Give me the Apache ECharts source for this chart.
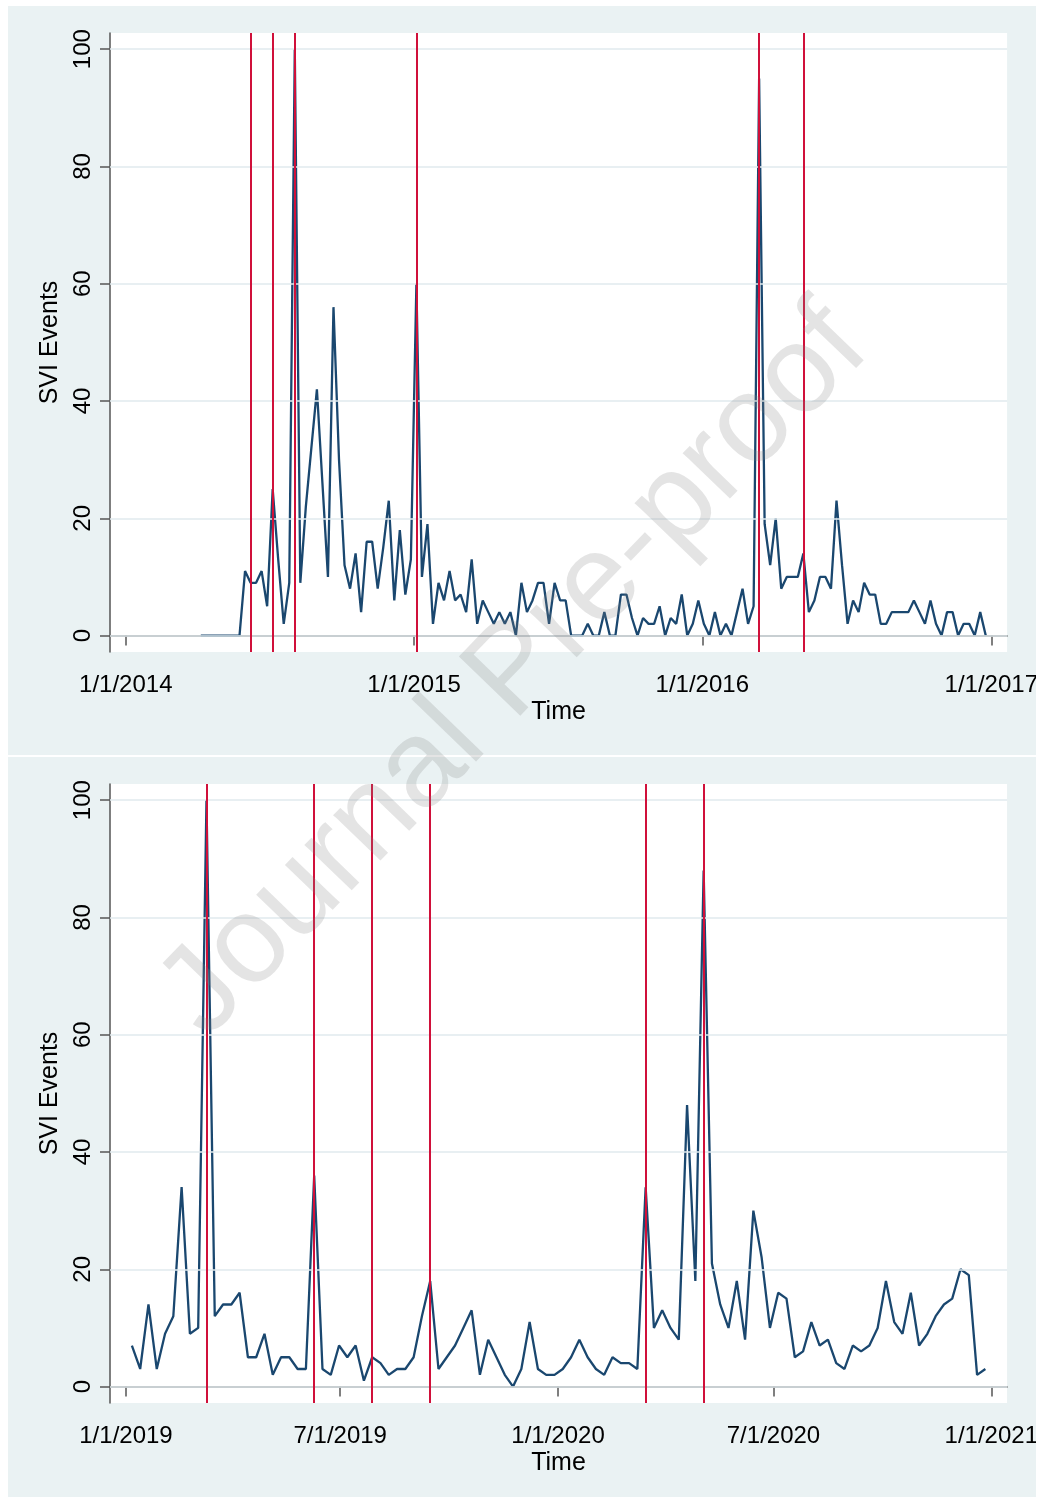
<!DOCTYPE html>
<html><head><meta charset="utf-8">
<script src="https://cdn.jsdelivr.net/npm/echarts@6/dist/echarts.min.js"></script>
<style>html,body{margin:0;padding:0;background:#fff;}#c{width:1041px;height:1497px;}</style>
</head><body><div id="c"></div>
<script>
// ---------- data ----------
const p1Start = '2014-04-06';   // weekly series, first week
const p1Values = [0,0,0,0,0,0,0,0,11,9,9,11,5,25,13,2,9,100,9,22,32,42,26,10,56,30,12,8,14,4,16,16,8,15,23,6,18,7,13,60,
  10,19,2,9,6,11,6,7,4,13,2,6,4,2,4,2,4,0,9,4,6,9,9,2,9,6,6,0,0,0,2,0,0,4,0,0,7,7,3,0,3,2,2,5,0,3,2,7,0,2,6,2,0,4,0,2,0,4,8,2,5,95,
  19,12,20,8,10,10,10,14,4,6,10,10,8,23,12,2,6,4,9,7,7,2,2,4,4,4,4,6,4,2,6,2,0,4,4,0,2,2,0,4,0];
const p1Events = ['2014-06-08','2014-07-06','2014-08-03','2015-01-04','2016-03-13','2016-05-08'];
const p1Ticks = ['2014-01-01','2015-01-01','2016-01-01','2017-01-01'];

const p2Start = '2019-01-06';
const p2Values = [7,3,14,3,9,12,34,9,10,100,12,14,14,16,5,5,9,2,5,5,3,3,36,3,2,7,5,7,1,5,4,2,3,3,5,12,18,
  3,5,7,10,13,2,8,5,2,0,3,11,3,2,2,3,5,8,5,3,2,5,4,4,3,34,10,13,10,8,48,18,88,
  21,14,10,18,8,30,22,10,16,15,5,6,11,7,8,4,3,7,6,7,10,18,11,9,16,7,9,12,14,15,20,19,2,3];
const p2Events = ['2019-03-10','2019-06-09','2019-07-28','2019-09-15','2020-03-15','2020-05-03'];
const p2Ticks = ['2019-01-01','2019-07-01','2020-01-01','2020-07-01','2021-01-01'];

const yTicks = [0,20,40,60,80,100];

// ---------- helpers ----------
const DAY = 86400000;
const ts = s => Date.parse(s.length > 10 ? s : s + 'T00:00:00Z');
const weekly = (start, vals) => vals.map((v, i) => [ts(start) + i * 7 * DAY, v]);
const fmt = v => { const d = new Date(v); return (d.getUTCMonth() + 1) + '/' + d.getUTCDate() + '/' + d.getUTCFullYear(); };

const FONT = '"Liberation Sans", Arial, sans-serif';
const axisCol = '#555';

function xAxis(idx, min, max, ticks) {
  const tv = ticks.map(ts);
  return {
    type: 'value', gridIndex: idx, min: ts(min), max: ts(max),
    axisLine: { show: true, lineStyle: { color: axisCol, width: 1.5 } },
    axisTick: { show: true, length: 10, customValues: tv, lineStyle: { color: axisCol, width: 1.5 } },
    axisLabel: { customValues: tv, formatter: fmt, fontSize: 24, color: '#000', margin: 21, fontFamily: FONT },
    splitLine: { show: false },
    name: 'Time', nameLocation: 'middle', nameGap: 48,
    nameTextStyle: { fontSize: 25, color: '#000', fontFamily: FONT }
  };
}
function yAxis(idx) {
  return {
    type: 'value', gridIndex: idx, min: -2.8, max: 102.75,
    axisLine: { show: true, lineStyle: { color: axisCol, width: 1.5 } },
    axisTick: { show: true, length: 10, customValues: yTicks, lineStyle: { color: axisCol, width: 1.5 } },
    axisLabel: { customValues: yTicks, rotate: 90, fontSize: 24, color: '#000', margin: 15, fontFamily: FONT },
    splitLine: { show: false },
    name: 'SVI Events', nameLocation: 'middle', nameGap: 44, nameRotate: 90,
    nameTextStyle: { fontSize: 25, color: '#000', fontFamily: FONT }
  };
}
function panelSeries(idx, start, vals, events) {
  return [
    { type: 'line', xAxisIndex: idx, yAxisIndex: idx, data: [], z: 1, silent: true,
      markLine: { silent: true, symbol: ['none', 'none'], label: { show: false }, animation: false,
        lineStyle: { color: '#e1eaee', width: 1.5, type: 'solid' },
        data: yTicks.map(v => ({ yAxis: v })) } },
    { type: 'line', xAxisIndex: idx, yAxisIndex: idx, data: [], z: 2, silent: true,
      markLine: { silent: true, symbol: ['none', 'none'], label: { show: false }, animation: false,
        lineStyle: { color: '#d0103a', width: 2, type: 'solid' },
        data: events.map(e => ({ xAxis: ts(e) })) } },
    { type: 'line', xAxisIndex: idx, yAxisIndex: idx, data: weekly(start, vals), z: 3,
      showSymbol: false, symbol: 'none',
      lineStyle: { color: '#1a476f', width: 2.3 } }
  ];
}

const chart = echarts.init(document.getElementById('c'), null, { renderer: 'canvas' });
chart.setOption({
  animation: false,
  backgroundColor: '#eaf2f3',
  textStyle: { fontFamily: FONT },
  grid: [
    { left: 110, top: 33, width: 898, height: 619, show: true, backgroundColor: '#fff', borderWidth: 0 },
    { left: 110, top: 784, width: 898, height: 619, show: true, backgroundColor: '#fff', borderWidth: 0 }
  ],
  xAxis: [
    xAxis(0, '2013-12-12', '2017-01-21', p1Ticks),
    xAxis(1, '2018-12-18T12:00:00Z', '2021-01-14T08:00:00Z', p2Ticks)
  ],
  yAxis: [yAxis(0), yAxis(1)],
  series: [].concat(
    panelSeries(0, p1Start, p1Values, p1Events),
    panelSeries(1, p2Start, p2Values, p2Events)
  ),
  graphic: [
    { type: 'rect', z: 100, shape: { x: 0, y: 0, width: 1041, height: 6 }, style: { fill: '#fff' } },
    { type: 'rect', z: 100, shape: { x: 0, y: 0, width: 8, height: 1497 }, style: { fill: '#fff' } },
    { type: 'rect', z: 100, shape: { x: 1036, y: 0, width: 5, height: 1497 }, style: { fill: '#fff' } },
    { type: 'rect', z: 100, shape: { x: 0, y: 755, width: 1041, height: 2 }, style: { fill: '#fff' } },
    { type: 'text', z: 101, x: 515, y: 672, rotation: 46 * Math.PI / 180,
      style: { text: 'Journal Pre-proof', font: '124px "Liberation Sans", Arial, sans-serif',
        fill: 'rgba(130,130,130,0.22)', textAlign: 'center', textVerticalAlign: 'middle' } }
  ]
});
</script></body></html>
